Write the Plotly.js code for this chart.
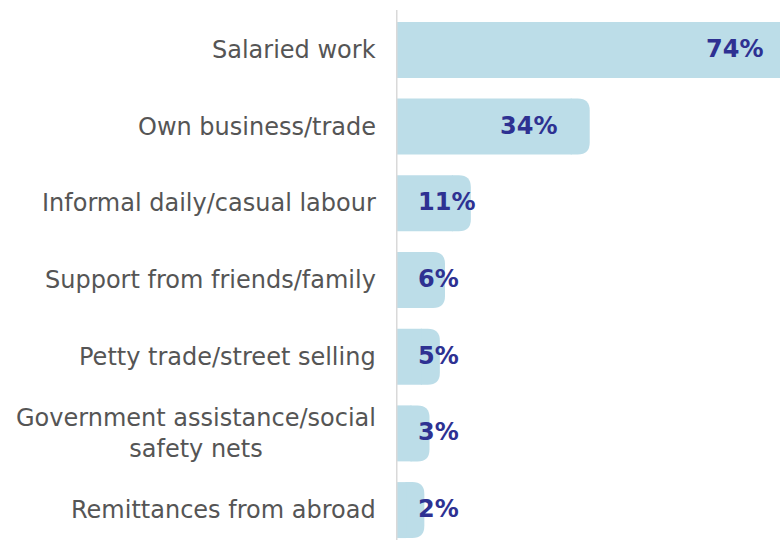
<!DOCTYPE html>
<html>
<head>
<meta charset="utf-8">
<script src="https://cdn.plot.ly/plotly-3.0.1.min.js"></script>
<style>html,body{margin:0;padding:0;background:#fff}#chart{width:780px;height:540px}</style>
</head>
<body>
<div id="chart"></div>
<script>
// Data
const categories = [
  "Salaried work",
  "Own business/trade",
  "Informal daily/casual labour",
  "Support from friends/family",
  "Petty trade/street selling",
  "Government assistance/social<br>safety nets",
  "Remittances from abroad"
];
const values = [74, 34, 11, 6, 5, 3, 2];
const valueLabels = ["74%", "34%", "11%", "6%", "5%", "3%", "2%"];

// Styles
const barColor = "#bcdde8";
const valueColor = "#2e3192";
const labelColor = "#555555";
const positions = categories.map((c, i) => i);
const barWidth = 0.73;
const half = barWidth / 2;
const capPx = 18;       // rounded end cap length in px
const radPx = 12;       // corner radius in px
const radY = 12 / 76.7; // corner radius in y data units

const shapes = [];
// rounded caps at the end of each bar
values.forEach((v, i) => {
  const y0 = i - half, y1 = i + half;
  const xr = capPx - radPx;
  const path = `M -1,${y0} L ${xr},${y0} Q ${capPx},${y0} ${capPx},${y0 + radY} ` +
               `L ${capPx},${y1 - radY} Q ${capPx},${y1} ${xr},${y1} L -1,${y1} Z`;
  shapes.push({
    type: "path", xref: "x", yref: "y",
    xsizemode: "pixel", xanchor: v, ysizemode: "scaled",
    path: path, fillcolor: barColor, line: {width: 0}, layer: "below"
  });
});
// vertical baseline
shapes.push({
  type: "line", xref: "x", yref: "paper", x0: 0, x1: 0, y0: 0, y1: 1,
  line: {color: "#d9d9d9", width: 3}, layer: "above"
});

const annotations = [];
categories.forEach((c, i) => {
  annotations.push({
    xref: "paper", yref: "y", x: 0, y: i, xanchor: "right", yanchor: "middle",
    xshift: -18, yshift: 0, align: "center", showarrow: false, text: c,
    font: {family: "DejaVu Sans", size: 24, color: labelColor}
  });
});
values.forEach((v, i) => {
  const big = v > 20;
  annotations.push({
    xref: "x", yref: "y", x: big ? v : 0, y: i,
    xanchor: big ? "right" : "left", yanchor: "middle",
    xshift: big ? -13 : 20, yshift: 1, showarrow: false, text: valueLabels[i],
    font: {family: "DejaVu Sans", size: 24, color: valueColor, weight: "bold"}
  });
});

const trace = {
  type: "bar", orientation: "h",
  x: values, y: positions, width: barWidth,
  marker: {color: barColor, line: {width: 0}},
  hoverinfo: "none", showlegend: false
};

const layout = {
  width: 780, height: 540,
  margin: {l: 396, r: 0, t: 10, b: 0, pad: 0},
  paper_bgcolor: "#ffffff", plot_bgcolor: "#ffffff",
  xaxis: {range: [0, 74.3], visible: false, fixedrange: true},
  yaxis: {range: [6.39, -0.52], visible: false, fixedrange: true},
  shapes: shapes,
  annotations: annotations,
  showlegend: false
};

Plotly.newPlot("chart", [trace], layout, {staticPlot: true, displayModeBar: false});
</script>
</body>
</html>
